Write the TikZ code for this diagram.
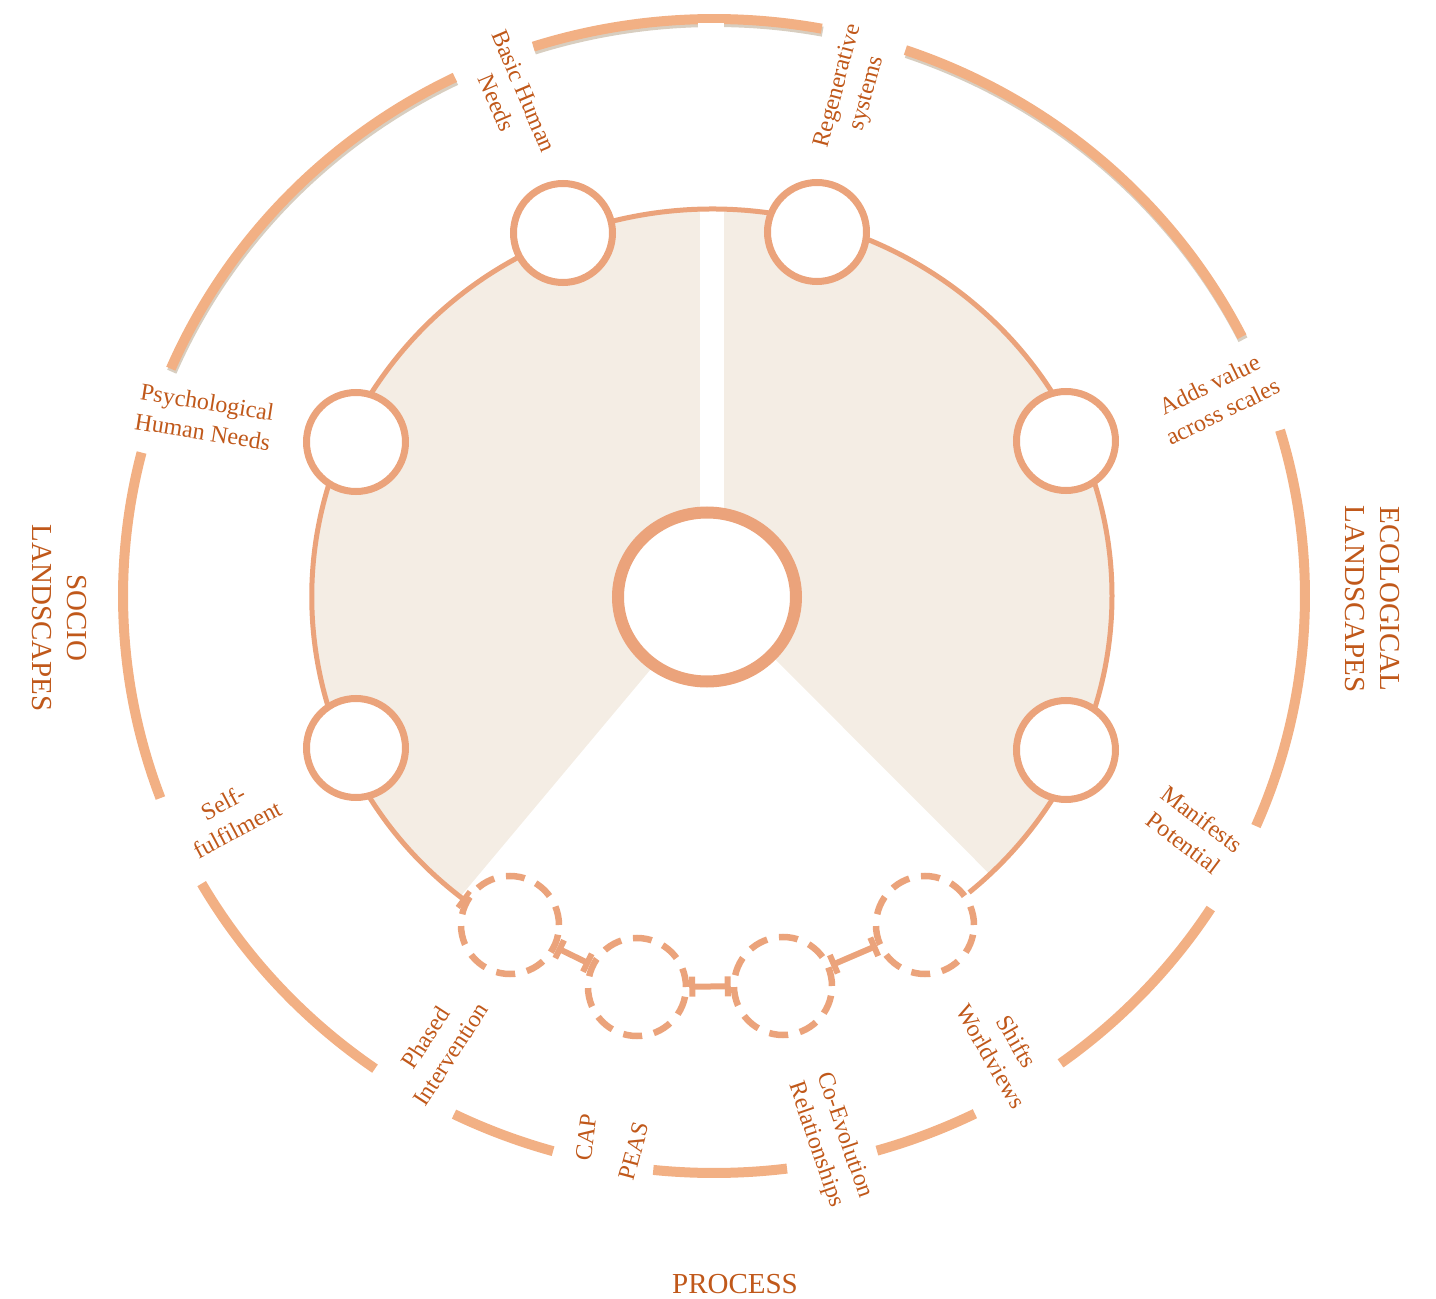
\documentclass[tikz,border=0pt]{standalone}
\usepackage{fontspec}
\setmainfont{Liberation Serif}
\usetikzlibrary{arrows.meta,shapes.geometric}

\definecolor{ringc}{HTML}{F2B084}
\definecolor{linec}{HTML}{EBA37B}
\definecolor{shadec}{HTML}{F4EDE4}
\definecolor{shadowc}{HTML}{D8CEC0}
\definecolor{txtc}{HTML}{C0581A}

\begin{document}
\begin{tikzpicture}[x=1pt,y=1pt,
 ring/.style={line width=10pt,draw=ringc},
 hub/.style={circle,draw=linec,line width=7pt,fill=white,minimum size=99pt,inner sep=0pt},
 phase/.style={circle,draw=linec,line width=6.5pt,dash pattern=on 19pt off 12pt,fill=white,minimum size=98pt,inner sep=0pt},
 link/.style={draw=linec,line width=6pt,{Bar[width=20pt]}-{Bar[width=20pt]}},
 lbl/.style={text=txtc,align=center,font=\fontsize{24}{30}\selectfont},
 big/.style={text=txtc,align=center,font=\fontsize{29}{35}\selectfont}]
\useasboundingbox (-714,-703) rectangle (722,596);
\foreach \a/\b in {79.5/107.8,26.7/71.1,116/156.8}
  \draw[ring,draw=shadowc,shift={(1,-3)}] (\a:591 and 577) arc[start angle=\a,end angle=\b,x radius=591,y radius=577];
\foreach \a/\b in {79.5/107.8,26.7/71.1,-23.5/16.7,-54.1/-32.8,-74/-63.8,-95.9/-82.9,-116.1/-105.8,-150.1/-125,165.6/200.5,116/156.8}
  \draw[ring] (\a:591 and 577) arc[start angle=\a,end angle=\b,x radius=591,y radius=577];
\fill[white] (-16,563) rectangle (10,572.5);
\fill[shadec] (-2,0) -- ([shift={(-2,0)}]-46:400 and 387) arc[start angle=-46,end angle=231,x radius=400,y radius=387] -- cycle;
\fill[white] (-14,386) rectangle (10,81);
\draw[draw=linec,line width=5pt,{Bar[width=20pt]}-] ([shift={(-2,0)}]232:400 and 387) arc[start angle=232,end angle=-50,x radius=400,y radius=387];
\node[ellipse,draw=linec,line width=12pt,fill=white,minimum width=178pt,minimum height=169pt] (core) at (-7,-1) {};
\node[hub] (basic) at (-151,363) {};
\node[hub] (regen) at (103,364) {};
\node[hub] (psych) at (-358,154) {};
\node[hub] (adds) at (352,155) {};
\node[hub] (self) at (-358,-152) {};
\node[hub] (manif) at (352,-154) {};
\node[phase] (p1) at (-204,-329) {};
\node[phase] (p2) at (-77,-391) {};
\node[phase] (p3) at (69,-390) {};
\node[phase] (p4) at (211,-329) {};
\draw[link] (p1)--(p2); \draw[link] (p2)--(p3); \draw[link] (p3)--(p4);
\node[lbl,rotate=-67] (lbasic) at (-204,499) {Basic Human\\Needs};
\node[lbl,rotate=75] (lregen) at (139,506) {Regenerative\\systems};
\node[lbl,rotate=-9] (lpsych) at (-509,179) {Psychological\\Human Needs};
\node[lbl,rotate=26] (ladds) at (502,198) {Adds value\\across scales};
\node[lbl,rotate=28] (lself) at (-484,-220) {Self-\\fulfilment};
\node[lbl,rotate=-37] (lmanif) at (479,-235) {Manifests\\Potential};
\node[lbl,rotate=-60] (lshift) at (290,-453) {Shifts\\Worldviews};
\node[lbl,rotate=-71] (lcoev) at (116,-544) {Co-Evolution\\Relationships};
\node[lbl,rotate=57] (lphase) at (-276,-450) {Phased\\Intervention};
\node[lbl,rotate=83] (lcap) at (-128,-541) {CAP};
\node[lbl,rotate=75] (lpeas) at (-80,-555) {PEAS};
\node[big,rotate=-90] (lsocio) at (-655,-22) {SOCIO\\LANDSCAPES};
\node[big,rotate=-90] (leco) at (658,-3) {ECOLOGICAL\\LANDSCAPES};
\node[big,anchor=base] (lproc) at (21,-697) {PROCESS};
\end{tikzpicture}
\end{document}
